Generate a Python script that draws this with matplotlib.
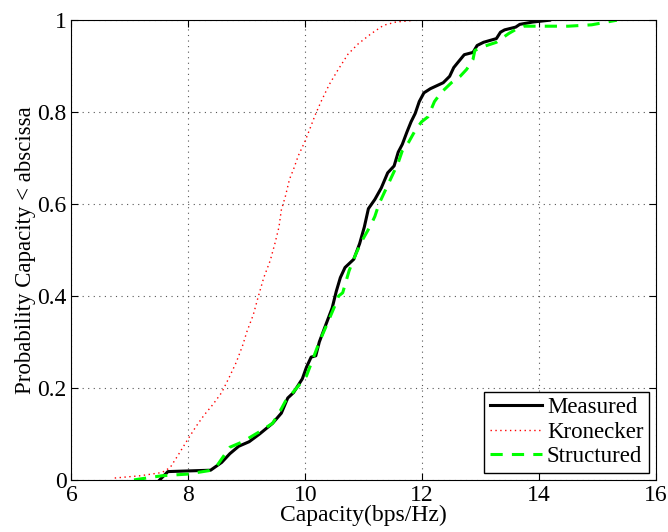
import matplotlib.pyplot as plt

plt.rcParams['font.family'] = ['Liberation Serif', 'DejaVu Serif']
plt.rcParams['mathtext.fontset'] = 'stix'

measured_x = [7.51, 7.65, 8.38, 8.57, 8.71, 8.86, 9.04, 9.22, 9.44, 9.59, 9.70, 9.80,
              9.95, 10.02, 10.10, 10.18, 10.24, 10.35, 10.46, 10.53, 10.60, 10.68,
              10.83, 10.93, 11.01, 11.08, 11.19, 11.30, 11.41, 11.52, 11.59, 11.66,
              11.74, 11.81, 11.88, 11.95, 12.03, 12.14, 12.36, 12.47, 12.54, 12.61,
              12.72, 12.87, 12.94, 13.05, 13.27, 13.34, 13.41, 13.60, 13.67, 13.89, 14.18]
measured_y = [0.0, 0.018, 0.021, 0.038, 0.057, 0.073, 0.083, 0.10, 0.123, 0.145, 0.178, 0.19,
              0.22, 0.245, 0.267, 0.27, 0.30, 0.337, 0.374, 0.41, 0.44, 0.462,
              0.48, 0.514, 0.55, 0.59, 0.61, 0.635, 0.668, 0.683, 0.713, 0.73,
              0.757, 0.779, 0.797, 0.823, 0.842, 0.851, 0.864, 0.878, 0.897, 0.908,
              0.925, 0.93, 0.945, 0.952, 0.96, 0.974, 0.979, 0.985, 0.991, 0.996, 1.0]

kron_x = [6.74, 7.18, 7.55, 7.69, 7.84, 7.98, 8.13, 8.27, 8.42, 8.57, 8.71, 8.82, 8.93,
          9.00, 9.11, 9.19, 9.29, 9.40, 9.48, 9.55, 9.59, 9.66, 9.73, 9.80, 9.88,
          9.99, 10.08, 10.17, 10.27, 10.41, 10.55, 10.73, 10.90, 11.12, 11.34, 11.55,
          11.88, 11.99]
kron_y = [0.004, 0.009, 0.016, 0.027, 0.057, 0.086, 0.116, 0.141, 0.164, 0.19, 0.226, 0.256, 0.293,
          0.322, 0.359, 0.396, 0.44, 0.477, 0.514, 0.55, 0.587, 0.617, 0.654, 0.676, 0.705,
          0.735, 0.764, 0.794, 0.823, 0.86, 0.89, 0.926, 0.948, 0.97, 0.989, 0.996,
          1.0, 1.0]

struct_x = [7.07, 7.55, 7.98, 8.35, 8.49, 8.71, 8.93, 9.22, 9.44, 9.55, 9.66, 9.88, 10.02,
            10.13, 10.24, 10.39, 10.50, 10.57, 10.64, 10.75, 10.86, 10.97, 11.12, 11.19,
            11.26, 11.37, 11.48, 11.59, 11.66, 11.77, 11.88, 11.99, 12.10, 12.21, 12.32,
            12.50, 12.65, 12.76, 12.87, 12.90, 13.01, 13.27, 13.48, 13.63, 13.74, 14.50,
            14.90, 15.33]
struct_y = [0.0, 0.009, 0.0125, 0.02, 0.031, 0.071, 0.083, 0.105, 0.123, 0.145, 0.171, 0.204, 0.226,
            0.263, 0.30, 0.344, 0.377, 0.40, 0.407, 0.455, 0.49, 0.52, 0.554, 0.573,
            0.60, 0.63, 0.66, 0.69, 0.716, 0.735, 0.76, 0.779, 0.79, 0.823, 0.842,
            0.864, 0.878, 0.893, 0.915, 0.934, 0.941, 0.952, 0.971, 0.982, 0.987, 0.987,
            0.99, 1.0]

x_ticks = [6, 8, 10, 12, 14, 16]
y_ticks = [0, 0.2, 0.4, 0.6, 0.8, 1]
y_labels = ['0', '0.2', '0.4', '0.6', '0.8', '1']

fig = plt.figure(figsize=(6.68, 5.32), dpi=100)
ax = fig.add_axes([0.107, 0.098, 0.875, 0.864])

ax.plot(measured_x, measured_y, color='black', lw=2.2, label='Measured')
ax.plot(kron_x, kron_y, color='red', lw=1.0, ls=(0, (1, 2.5)), label='Kronecker')
ax.plot(struct_x, struct_y, color='#00ff00', lw=2.2, ls=(0, (4, 3)), label='Structured')

ax.set_xlim(6, 16)
ax.set_ylim(0, 1)
ax.set_xticks(x_ticks)
ax.set_yticks(y_ticks)
ax.set_yticklabels(y_labels)
ax.tick_params(direction='in', top=True, right=True, labelsize=17, length=5)
ax.grid(True, color='#555555', ls=(0, (1, 4)), lw=0.8)

ax.set_xlabel('Capacity(bps/Hz)', fontsize=17, labelpad=-1)
ax.set_ylabel('Probability Capacity < abscissa', fontsize=16.5, labelpad=1)

leg = ax.legend(loc='lower right', fontsize=16.5, fancybox=False, framealpha=1,
                edgecolor='black', borderaxespad=0.3, handlelength=2.3,
                handletextpad=0.2, borderpad=0.25, labelspacing=0.15)
leg.get_frame().set_linewidth(1.0)

fig.savefig('out.png', dpi=100)
